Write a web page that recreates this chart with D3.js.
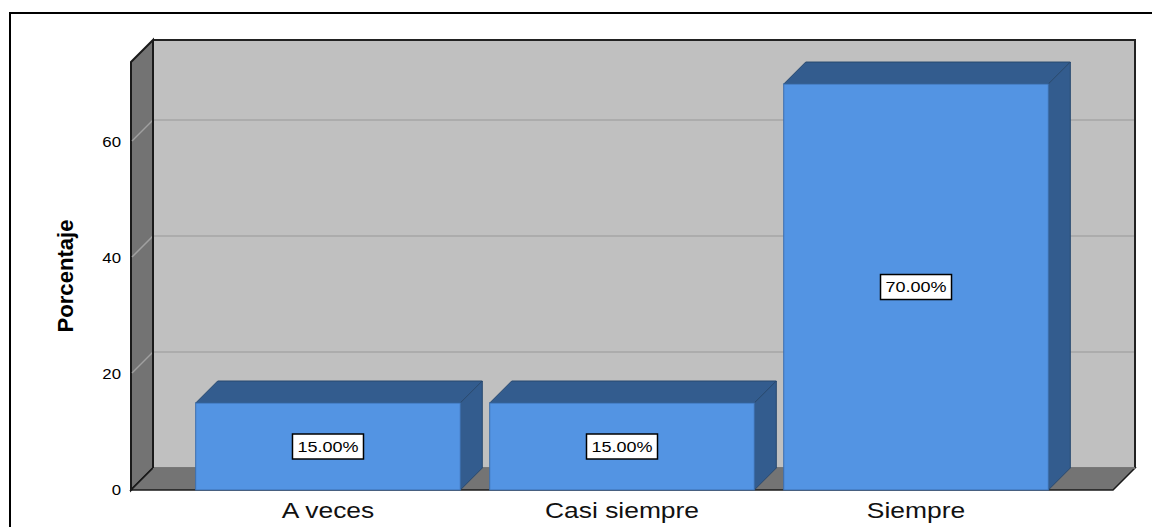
<!DOCTYPE html>
<html>
<head>
<meta charset="utf-8">
<script src="https://cdn.jsdelivr.net/npm/d3@7"></script>
<style>
  body { margin: 0; background: #fff; }
  svg { display: block; font-family: "Liberation Sans", Arial, sans-serif; }
</style>
</head>
<body>
<svg id="chart" width="1153" height="527"></svg>
<script>
// ---- data ----
const categories = ["A veces", "Casi siempre", "Siempre"];
const percentages = [15, 15, 70];
const valueLabels = ["15.00%", "15.00%", "70.00%"];
const tickValues = [0, 20, 40, 60];
const yAxisTitle = "Porcentaje";
const yMax = 73.8;

// ---- layout ----
const svg = d3.select("#chart");
const D = 22;                // 3D depth offset
const xLeft = 131, xRight = 1113, yBottom = 490, yTop = 62;
const STRETCH = 1.2;

const x = d3.scaleBand().domain(categories).range([xLeft, xRight])
  .paddingInner(0.1).paddingOuter(0.22);
const y = d3.scaleLinear().domain([0, yMax]).range([yBottom, yTop]);

function stretch(sel, f) {
  sel.each(function () {
    const w = this.getComputedTextLength();
    d3.select(this).attr("textLength", w * (f || STRETCH)).attr("lengthAdjust", "spacingAndGlyphs");
  });
}

// outer frame
svg.append("path").attr("d", `M10,540 L10,13 L1152,13`)
  .attr("fill", "none").attr("stroke", "#000").attr("stroke-width", 2);

// back wall
svg.append("rect")
  .attr("x", xLeft + D).attr("y", yTop - D)
  .attr("width", (xRight + D) - (xLeft + D)).attr("height", (yBottom - D) - (yTop - D))
  .attr("fill", "#c0c0c0");

// back wall gridlines
svg.append("g").selectAll("line").data(tickValues.filter(d => d > 0)).join("line")
  .attr("x1", xLeft + D).attr("x2", xRight + D)
  .attr("y1", d => y(d) - D).attr("y2", d => y(d) - D)
  .attr("stroke", "#acacac").attr("stroke-width", 2);

// back wall top/right outline
svg.append("path")
  .attr("d", `M${xLeft + D},${yTop - D} L${xRight + D},${yTop - D} L${xRight + D},${yBottom - D}`)
  .attr("fill", "none").attr("stroke", "#222").attr("stroke-width", 2);

// left wall
svg.append("path")
  .attr("d", `M${xLeft},${yTop} L${xLeft + D},${yTop - D} L${xLeft + D},${yBottom - D} L${xLeft},${yBottom} Z`)
  .attr("fill", "#737373").attr("stroke", "#1a1a1a").attr("stroke-width", 2);

// left wall diagonal gridlines
svg.append("g").selectAll("line").data(tickValues.filter(d => d > 0)).join("line")
  .attr("x1", xLeft + 1).attr("x2", xLeft + D)
  .attr("y1", d => y(d) - 1).attr("y2", d => y(d) - D)
  .attr("stroke", "#a0a0a0").attr("stroke-width", 1.5);

// floor
svg.append("path")
  .attr("d", `M${xLeft},${yBottom} L${xLeft + D},${yBottom - D} L${xRight + D},${yBottom - D} L${xRight},${yBottom} Z`)
  .attr("fill", "#747474").attr("stroke", "#1a1a1a").attr("stroke-width", 1.5);
svg.append("line")
  .attr("x1", xLeft + D).attr("x2", xRight + D).attr("y1", yBottom - D).attr("y2", yBottom - D)
  .attr("stroke", "#8a8a8a").attr("stroke-width", 1.5);
svg.append("line")
  .attr("x1", xLeft + D).attr("x2", xLeft + D).attr("y1", yTop - D).attr("y2", yBottom - D)
  .attr("stroke", "#1a1a1a").attr("stroke-width", 2);

// bars
const bw = x.bandwidth();
const bars = svg.append("g").selectAll("g").data(categories.map((c, i) => ({ c, v: percentages[i], lab: valueLabels[i] })))
  .join("g");

// top face
bars.append("path")
  .attr("d", d => {
    const x0 = x(d.c), x1 = x0 + bw, yt = y(d.v);
    return `M${x0},${yt} L${x0 + D},${yt - D} L${x1 + D},${yt - D} L${x1},${yt} Z`;
  })
  .attr("fill", "#335c8e").attr("stroke", "#28496f").attr("stroke-width", 1);
// side face
bars.append("path")
  .attr("d", d => {
    const x1 = x(d.c) + bw, yt = y(d.v);
    return `M${x1},${yt} L${x1 + D},${yt - D} L${x1 + D},${y(0) - D} L${x1},${y(0)} Z`;
  })
  .attr("fill", "#335c8e").attr("stroke", "#28496f").attr("stroke-width", 1);
// front face
bars.append("rect")
  .attr("x", d => x(d.c)).attr("y", d => y(d.v))
  .attr("width", bw).attr("height", d => y(0) - y(d.v))
  .attr("fill", "#5394e3").attr("stroke", "#3c6fae").attr("stroke-width", 1);

// value labels
const lab = bars.append("g")
  .attr("transform", d => `translate(${x(d.c) + bw / 2},${(y(d.v) + y(0)) / 2})`);
lab.append("rect")
  .attr("x", -35.5).attr("y", -12.5).attr("width", 71).attr("height", 25)
  .attr("fill", "#fff").attr("stroke", "#000").attr("stroke-width", 1.5);
lab.append("text")
  .attr("text-anchor", "middle").attr("dy", "0.36em")
  .attr("font-size", 15).attr("fill", "#000")
  .text(d => d.lab)
  .call(stretch);

// y axis (tick labels only)
const yAxis = svg.append("g")
  .attr("transform", `translate(${xLeft},0)`)
  .call(d3.axisLeft(y).tickValues(tickValues).tickSize(0).tickPadding(10).tickFormat(d3.format("d")));
yAxis.select(".domain").remove();
yAxis.selectAll("text").attr("font-size", 14).attr("fill", "#000")
  .attr("font-family", "Liberation Sans, Arial, sans-serif").call(stretch);

// x axis (category labels)
const xAxis = svg.append("g")
  .attr("transform", `translate(0,${yBottom})`)
  .call(d3.axisBottom(x).tickSize(0).tickPadding(12));
xAxis.select(".domain").remove();
xAxis.selectAll("text").attr("font-size", 22).attr("fill", "#111")
  .attr("font-family", "Liberation Sans, Arial, sans-serif").call(stretch);

// y axis title
svg.append("text")
  .attr("transform", `translate(73,276) rotate(-90)`)
  .attr("text-anchor", "middle")
  .attr("font-size", 22).attr("font-weight", "bold").attr("fill", "#000")
  .attr("textLength", 113).attr("lengthAdjust", "spacingAndGlyphs")
  .text(yAxisTitle);
</script>
</body>
</html>
